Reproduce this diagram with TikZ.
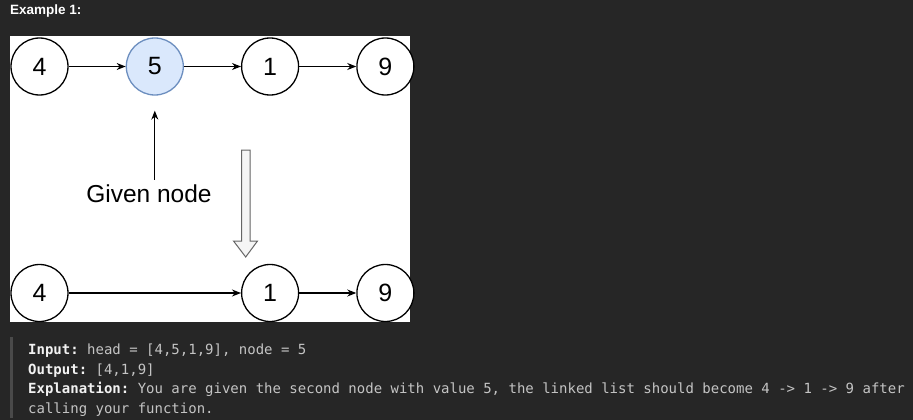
\documentclass[tikz,border=0pt]{standalone}
\usepackage{fontspec}
\setmainfont{Liberation Sans}
\setmonofont{DejaVu Sans Mono}
\usetikzlibrary{calc}
\usetikzlibrary{arrows.meta}
\usetikzlibrary{positioning}
\definecolor{pagebg}{HTML}{262626}
\definecolor{givenfill}{HTML}{DAE8FC}
\definecolor{givenline}{HTML}{6C8EBF}
\definecolor{shiftfill}{HTML}{F5F5F5}
\definecolor{shiftline}{HTML}{666666}
\definecolor{quotebar}{HTML}{4A4A4A}
\definecolor{codetext}{HTML}{C4C4C4}
\definecolor{labeltext}{HTML}{F2F2F2}
\tikzset{
    listnode/.style={
           circle,
           draw=black, line width=1.3pt,
           minimum size=57pt,
           inner sep=0pt,
           fill=white,
           font=\fontsize{25}{29}\selectfont,
           },
    link/.style={-{Stealth[length=9pt,width=7pt]}, line width=1.1pt},
    codeline/.style={anchor=base west, inner sep=0pt, text=codetext,
           font=\ttfamily\fontsize{14}{17}\selectfont},
}
\newcommand{\lbl}[1]{\textcolor{labeltext}{\bfseries #1}}

\begin{document}
\begin{tikzpicture}[x=1pt,y=-1pt]
      \fill[pagebg] (0,0) rectangle (913,420);
      \useasboundingbox (0,0) rectangle (913,420);
      \fill[white] (10,36) rectangle (410,322);
      \node[anchor=base west, inner sep=0pt, text=white,
            font=\fontsize{13.5}{16}\selectfont\bfseries] (title) at (10,15) {Example 1:};
      % list before
      \node[listnode] (q_4) at (39.5,66.5) {4};
      \node[listnode, fill=givenfill, draw=givenline] (q_5) [right=57pt of q_4] {5};
      \node[listnode] (q_1) [right=57pt of q_5] {1};
      \node[listnode] (q_9) [right=57pt of q_1] {9};
      \path[link]
      (q_4) edge (q_5)
      (q_5) edge (q_1)
      (q_1) edge (q_9);
      % pointer to the given node
      \node[inner xsep=0pt, inner ysep=5pt, font=\fontsize{24.5}{28}\selectfont] (given) at (149,194) {Given node};
      \coordinate (pointer) at ([yshift=-15pt]q_5.south);
      \draw[link] (given.north -| pointer) -- (pointer);
      % big arrow down
      \draw[draw=shiftline, fill=shiftfill, line width=1pt]
      (241.5,150) -- (250,150) -- (250,241) -- (257.5,241) -- (245.7,257)
      -- (233.5,241) -- (241.5,241) -- cycle;
      % list after
      \node[listnode] (r_4) at (39.5,293) {4};
      \node[listnode] (r_1) at (q_1 |- r_4) {1};
      \node[listnode] (r_9) at (q_9 |- r_4) {9};
      \path[link]
      (r_4) edge (r_1)
      (r_1) edge (r_9);
      % text below
      \fill[quotebar] (10,337) rectangle (13,418);
      \node[codeline] (input) at (28,354) {\lbl{Input:} head = [4,5,1,9], node = 5};
      \node[codeline] (output) at (28,374) {\lbl{Output:} [4,1,9]};
      \node[codeline] (explain) at (28,393.5) {\lbl{Explanation:} You are given the second node with value 5, the linked list should become 4 -> 1 -> 9 after};
      \node[codeline] (explain2) at (28,413) {calling your function.};
\end{tikzpicture}
\end{document}
